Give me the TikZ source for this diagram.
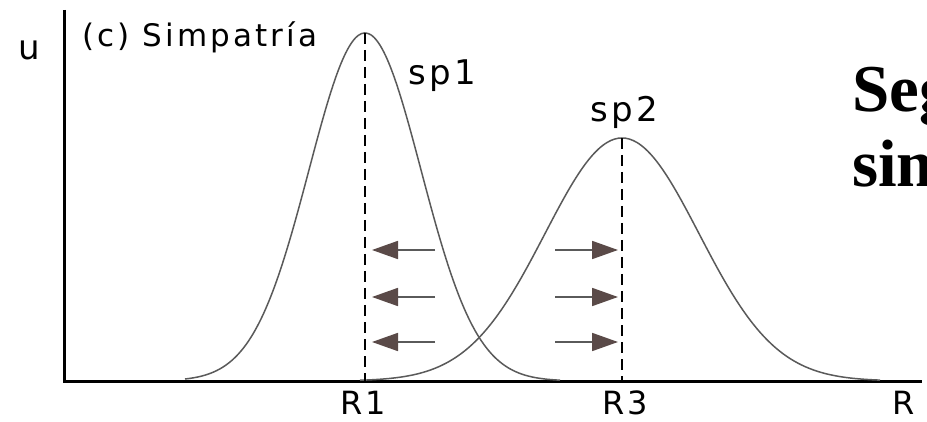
\documentclass[tikz,border=0pt]{standalone}
\usepackage{fontspec}
\usetikzlibrary{arrows.meta}
\newfontfamily\labfont[LetterSpace=10]{DejaVu Sans}
\newfontfamily\serifbold{Liberation Serif Bold}
\definecolor{curvegray}{HTML}{5A5A5A}
\definecolor{tipbrown}{HTML}{5A4A48}
\tikzset{
  axisline/.style={line width=3pt, black},
  bellcurve/.style={line width=1.5pt, curvegray},
  peakline/.style={line width=2.4pt, black, dash pattern=on 11pt off 6pt},
  pusharrow/.style={line width=1.8pt, curvegray, -{Triangle[length=26pt,width=18pt,fill=tipbrown,color=tipbrown]}},
  lab/.style={font=\labfont\fontsize{34}{40}\selectfont, inner sep=0pt},
  big/.style={font=\serifbold\fontsize{67}{75}\selectfont, inner sep=0pt}
}
\begin{document}
\begin{tikzpicture}[x=1pt,y=-1pt]
\useasboundingbox (0,0) rectangle (927,422);
\fill[white] (0,0) rectangle (927,422);
\begin{scope}
\clip (0,0) rectangle (927,422);
% axes
\coordinate (top) at (64,10);
\coordinate (origin) at (64,381);
\coordinate (rend) at (922,381);
\draw[axisline] (top) -- (origin) -- (rend);
% curves
\draw[bellcurve] plot[domain=185:560, samples=120, smooth]
  (\x, {381-348*exp(-0.5*((\x-365)/56)^2)});
\draw[bellcurve] plot[domain=360:880, samples=140, smooth]
  (\x, {381-243*exp(-0.5*((\x-622)/77)^2)});
% peak lines
\coordinate (p1) at (365,33);
\coordinate (b1) at (365,381);
\coordinate (p2) at (622,138);
\coordinate (b2) at (622,381);
\draw[peakline] (p1) -- (b1);
\draw[peakline] (p2) -- (b2);
% arrows
\foreach \y [count=\i] in {250,297,342} {
  \coordinate (ls\i) at (435,\y);
  \coordinate (lt\i) at (372,\y);
  \coordinate (rs\i) at (555,\y);
  \coordinate (rt\i) at (618,\y);
  \draw[pusharrow] (ls\i) -- (lt\i);
  \draw[pusharrow] (rs\i) -- (rt\i);
}
% labels
\node[lab, anchor=base west] (u) at (18,60) {u};
\node[lab, anchor=base west, font=\labfont\fontsize{31}{36}\selectfont] (title) at (82,47) {(c) Simpatría};
\node[lab, anchor=base west] (sp1) at (408,85) {sp1};
\node[lab, anchor=base west] (sp2) at (590,122) {sp2};
\node[lab, anchor=base, font=\labfont\fontsize{32}{38}\selectfont] (r1) at (363,414) {R1};
\node[lab, anchor=base, font=\labfont\fontsize{32}{38}\selectfont] (r3) at (625,414) {R3};
\node[lab, anchor=base west, font=\labfont\fontsize{32}{38}\selectfont] (r) at (892,414) {R};
\node[big, anchor=base west] (seg) at (852,112) {Seg};
\node[big, anchor=base west] (sim) at (852,187) {sim};
\end{scope}
\end{tikzpicture}
\end{document}
